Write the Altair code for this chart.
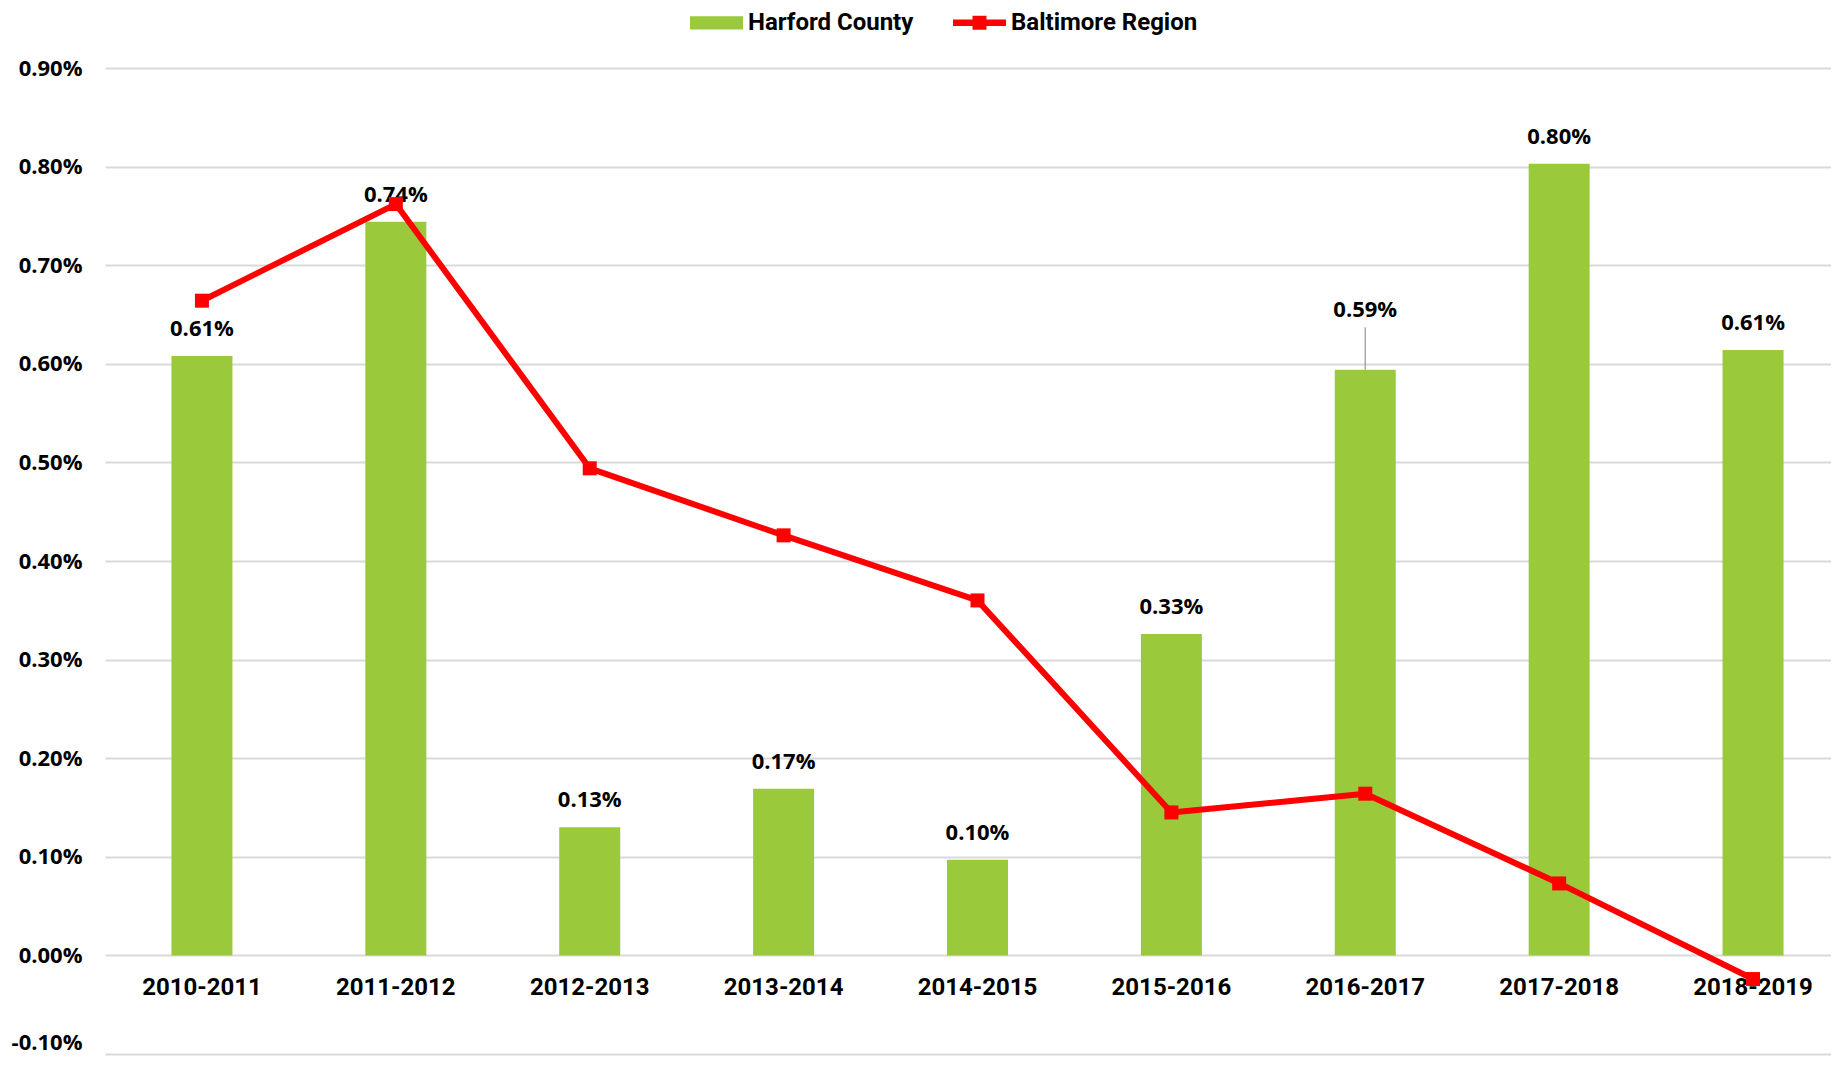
import altair as alt
import pandas as pd

# ---- data ----
categories = ["2010-2011", "2011-2012", "2012-2013", "2013-2014", "2014-2015",
              "2015-2016", "2016-2017", "2017-2018", "2018-2019"]
harford = [0.608, 0.744, 0.130, 0.169, 0.097, 0.326, 0.594, 0.803, 0.614]
baltimore = [0.664, 0.762, 0.494, 0.426, 0.360, 0.145, 0.164, 0.073, -0.024]
series = ["Harford County", "Baltimore Region"]
y_ticks = [-0.1, 0.0, 0.1, 0.2, 0.3, 0.4, 0.5, 0.6, 0.7, 0.8, 0.9]
raised_label = "2016-2017"

GREEN = "#9ACA3C"
RED = "#FF0000"

df = pd.DataFrame({"cat": categories, "harford": harford, "baltimore": baltimore})
legend_df = pd.DataFrame({"series": series})

x_enc = alt.X(
    "cat:N",
    sort=categories,
    scale=alt.Scale(range=[0, 1745], paddingInner=0, paddingOuter=0),
    axis=alt.Axis(
        title=None, domain=False, ticks=False, tickSize=0, grid=False,
        labelAngle=0, labelFont="Roboto", labelFontWeight="bold",
        labelFontSize=24, labelColor="#000000", labelBaseline="alphabetic",
        labelPadding=39, offset=-98.6,
    ),
)
y_scale = alt.Scale(domain=[-0.1, 0.9], nice=False, zero=False)

base = alt.Chart(df)

bars = base.mark_bar(color=GREEN, size=61).encode(
    x=x_enc,
    y=alt.Y(
        "harford:Q",
        scale=y_scale,
        axis=alt.Axis(
            title=None, values=y_ticks, domain=False, ticks=False, tickSize=0,
            grid=True, gridColor="#d9d9d9", gridWidth=2,
            labelExpr="(datum.value < 0 ? '-' : '') + format(abs(datum.value), '.2f') + '%'",
            labelFont="Open Sans", labelFontWeight="bold", labelFontSize=22,
            labelColor="#000000", labelPadding=23,
            labelOffset={"condition": {"test": "datum.value < 0", "value": -12}, "value": 0},
        ),
    ),
)

labels = base.transform_filter(
    alt.datum.cat != raised_label
).transform_calculate(
    label="format(datum.harford, '.2f') + '%'"
).mark_text(
    font="Open Sans", fontWeight="bold", fontSize=22, color="#000000",
    baseline="middle", dy=-27,
).encode(x=alt.X("cat:N", sort=categories), y=alt.Y("harford:Q"), text="label:N")

raised = base.transform_filter(
    alt.datum.cat == raised_label
).transform_calculate(
    label="format(datum.harford, '.2f') + '%'"
).mark_text(
    font="Open Sans", fontWeight="bold", fontSize=22, color="#000000",
    baseline="middle", dy=-60,
).encode(x=alt.X("cat:N", sort=categories), y=alt.Y("harford:Q"), text="label:N")

leader = base.transform_filter(
    alt.datum.cat == raised_label
).transform_calculate(
    top="datum.harford + 0.043"
).mark_rule(color="#a6a6a6", strokeWidth=1.5).encode(
    x=alt.X("cat:N", sort=categories), y=alt.Y("harford:Q"), y2="top:Q"
)

line = base.mark_line(color=RED, strokeWidth=6, strokeJoin="round", strokeCap="round").encode(
    x=alt.X("cat:N", sort=categories), y=alt.Y("baltimore:Q")
)

markers = base.mark_square(color=RED, size=196, filled=True, opacity=1).encode(
    x=alt.X("cat:N", sort=categories), y=alt.Y("baltimore:Q")
)

bar_path = "M-1,-0.25L1,-0.25L1,0.25L-1,0.25Z"
line_path = ("M-1,-0.12L-0.264,-0.12L-0.264,-0.264L0.264,-0.264L0.264,-0.12L1,-0.12"
             "L1,0.12L0.264,0.12L0.264,0.264L-0.264,0.264L-0.264,0.12L-1,0.12Z")

leg = alt.Legend(
    title=None, orient="none", direction="horizontal", legendX=585, legendY=-72,
    labelFont="Roboto", labelFontWeight="bold", labelFontSize=24,
    labelColor="#000000", labelLimit=0, symbolSize=2809, symbolStrokeWidth=0,
    labelOffset=5, columnPadding=39, padding=0,
)

legend_layer = alt.Chart(legend_df).transform_filter("false").mark_point(
    filled=True, opacity=1
).encode(
    color=alt.Color("series:N", scale=alt.Scale(domain=series, range=[GREEN, RED]), legend=leg),
    shape=alt.Shape("series:N", scale=alt.Scale(domain=series, range=[bar_path, line_path]), legend=leg),
)

chart = alt.layer(bars, labels, raised, leader, line, markers, legend_layer).properties(
    width=1726,
    height=986,
    background="white",
    autosize=alt.AutoSizeParams(type="none"),
    padding={"left": 97, "top": 60, "right": 0, "bottom": 3},
).configure_view(
    stroke="transparent", strokeWidth=0
).configure_axis(
    domain=False
)

chart.save("out.html", embed_options={"renderer": "svg", "actions": False})
